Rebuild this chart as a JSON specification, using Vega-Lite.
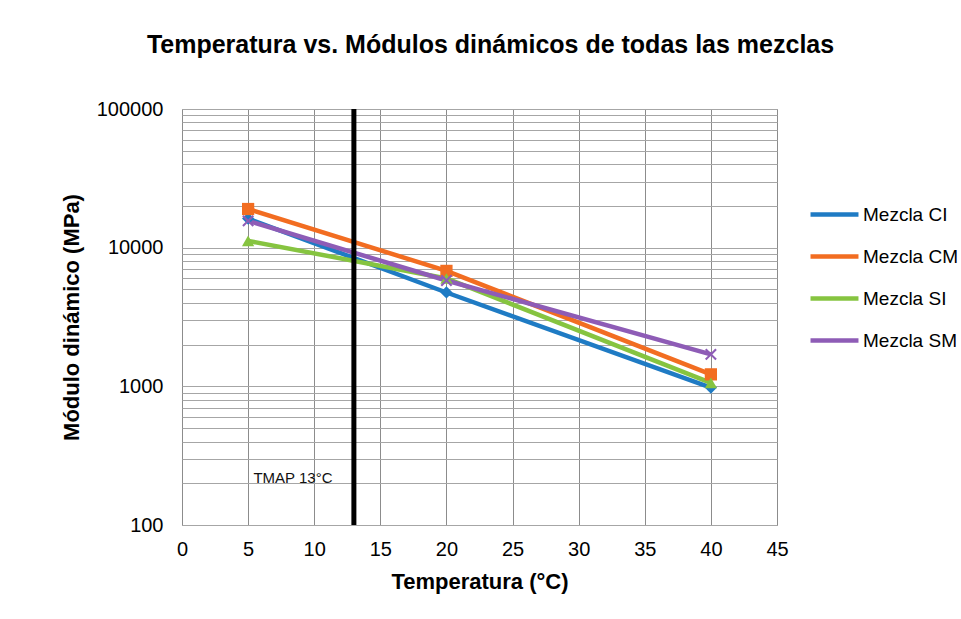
{
  "$schema": "https://vega.github.io/schema/vega-lite/v6.json",
  "width": 595,
  "height": 416,
  "autosize": {"type": "none"},
  "padding": {"left": 182, "top": 109, "right": 184, "bottom": 94},
  "background": "white",
  "config": {
    "font": "Liberation Sans",
    "view": {"stroke": "#999999", "strokeWidth": 1}
  },
  "title": {
    "text": "Temperatura vs. Módulos dinámicos de todas las mezclas",
    "fontSize": 25,
    "fontWeight": "bold",
    "color": "#000000",
    "anchor": "middle",
    "baseline": "alphabetic",
    "offset": 21,
    "dx": 11,
    "frame": "group"
  },
  "datasets": {
    "series": [
      {"temp": 5, "modulo": 16200, "mezcla": "Mezcla CI"},
      {"temp": 20, "modulo": 4750, "mezcla": "Mezcla CI"},
      {"temp": 40, "modulo": 980, "mezcla": "Mezcla CI"},
      {"temp": 5, "modulo": 19000, "mezcla": "Mezcla CM"},
      {"temp": 20, "modulo": 6800, "mezcla": "Mezcla CM"},
      {"temp": 40, "modulo": 1220, "mezcla": "Mezcla CM"},
      {"temp": 5, "modulo": 11200, "mezcla": "Mezcla SI"},
      {"temp": 20, "modulo": 6000, "mezcla": "Mezcla SI"},
      {"temp": 40, "modulo": 1060, "mezcla": "Mezcla SI"},
      {"temp": 5, "modulo": 15600, "mezcla": "Mezcla SM"},
      {"temp": 20, "modulo": 5800, "mezcla": "Mezcla SM"},
      {"temp": 40, "modulo": 1700, "mezcla": "Mezcla SM"}
    ],
    "tmap": [{"temp": 13, "modulo": 218, "label": "TMAP 13°C", "labelx": 5.4}]
  },
  "layer": [
    {
      "data": {"name": "series"},
      "mark": {"type": "line", "strokeWidth": 4.5},
      "encoding": {
        "x": {
          "field": "temp",
          "type": "quantitative",
          "scale": {"domain": [0, 45], "nice": false},
          "axis": {
            "values": [0, 5, 10, 15, 20, 25, 30, 35, 40, 45],
            "title": "Temperatura (°C)",
            "titleFontSize": 22,
            "titleFontWeight": "bold",
            "titleColor": "#000000",
            "titlePadding": 12,
            "labelFontSize": 20,
            "labelColor": "#000000",
            "labelPadding": 14,
            "labelFlush": false,
            "ticks": false,
            "domain": false,
            "grid": true,
            "gridColor": "#8c8c8c",
            "gridOpacity": 1,
            "gridWidth": 1
          }
        },
        "y": {
          "field": "modulo",
          "type": "quantitative",
          "scale": {"type": "log", "domain": [100, 100000], "nice": false},
          "axis": {
            "values": [100, 200, 300, 400, 500, 600, 700, 800, 900, 1000, 2000, 3000, 4000, 5000, 6000, 7000, 8000, 9000, 10000, 20000, 30000, 40000, 50000, 60000, 70000, 80000, 90000, 100000],
            "format": "d",
            "labelExpr": "indexof(['100','1000','10000','100000'], datum.label) >= 0 ? datum.label : ''",
            "title": "Módulo dinámico (MPa)",
            "titleFontSize": 22,
            "titleFontWeight": "bold",
            "titleColor": "#000000",
            "titlePadding": 13,
            "labelFontSize": 20,
            "labelColor": "#000000",
            "labelPadding": 19,
            "labelFlush": false,
            "ticks": false,
            "domain": false,
            "grid": true,
            "gridColor": "#a6a6a6",
            "gridOpacity": 1,
            "gridWidth": 1
          }
        },
        "color": {
          "field": "mezcla",
          "type": "nominal",
          "scale": {
            "domain": ["Mezcla CI", "Mezcla CM", "Mezcla SI", "Mezcla SM"],
            "range": ["#1f7bc4", "#f26d21", "#86c440", "#8e5cb6"]
          },
          "legend": {
            "title": null,
            "orient": "none",
            "legendX": 626,
            "legendY": 79,
            "symbolType": "stroke",
            "symbolStrokeWidth": 4.5,
            "symbolSize": 2300,
            "labelFontSize": 19,
            "labelColor": "#000000",
            "rowPadding": 5,
            "labelOffset": 2
          }
        }
      }
    },
    {
      "data": {"name": "series"},
      "transform": [{"filter": "datum.mezcla == 'Mezcla CI'"}],
      "mark": {"type": "point", "filled": true, "opacity": 1, "size": 150, "shape": "diamond"},
      "encoding": {
        "x": {"field": "temp", "type": "quantitative"},
        "y": {"field": "modulo", "type": "quantitative"},
        "color": {"field": "mezcla", "type": "nominal", "legend": null}
      }
    },
    {
      "data": {"name": "series"},
      "transform": [{"filter": "datum.mezcla == 'Mezcla CM'"}],
      "mark": {"type": "point", "filled": true, "opacity": 1, "size": 150, "shape": "square"},
      "encoding": {
        "x": {"field": "temp", "type": "quantitative"},
        "y": {"field": "modulo", "type": "quantitative"},
        "color": {"field": "mezcla", "type": "nominal", "legend": null}
      }
    },
    {
      "data": {"name": "series"},
      "transform": [{"filter": "datum.mezcla == 'Mezcla SI'"}],
      "mark": {"type": "point", "filled": true, "opacity": 1, "size": 150, "shape": "triangle-up"},
      "encoding": {
        "x": {"field": "temp", "type": "quantitative"},
        "y": {"field": "modulo", "type": "quantitative"},
        "color": {"field": "mezcla", "type": "nominal", "legend": null}
      }
    },
    {
      "data": {"name": "series"},
      "transform": [{"filter": "datum.mezcla == 'Mezcla SM'"}],
      "mark": {"type": "point", "filled": true, "opacity": 1, "size": 140, "shape": "M-1,-0.75L-0.75,-1L0,-0.25L0.75,-1L1,-0.75L0.25,0L1,0.75L0.75,1L0,0.25L-0.75,1L-1,0.75L-0.25,0Z"},
      "encoding": {
        "x": {"field": "temp", "type": "quantitative"},
        "y": {"field": "modulo", "type": "quantitative"},
        "color": {"field": "mezcla", "type": "nominal", "legend": null}
      }
    },
    {
      "data": {"name": "tmap"},
      "mark": {"type": "rule", "color": "#000000", "strokeWidth": 5},
      "encoding": {
        "x": {"field": "temp", "type": "quantitative"}
      }
    },
    {
      "data": {"name": "tmap"},
      "mark": {"type": "text", "align": "left", "baseline": "middle", "fontSize": 15, "font": "Liberation Sans", "color": "#111111"},
      "encoding": {
        "x": {"field": "labelx", "type": "quantitative"},
        "y": {"field": "modulo", "type": "quantitative"},
        "text": {"field": "label"}
      }
    }
  ]
}
